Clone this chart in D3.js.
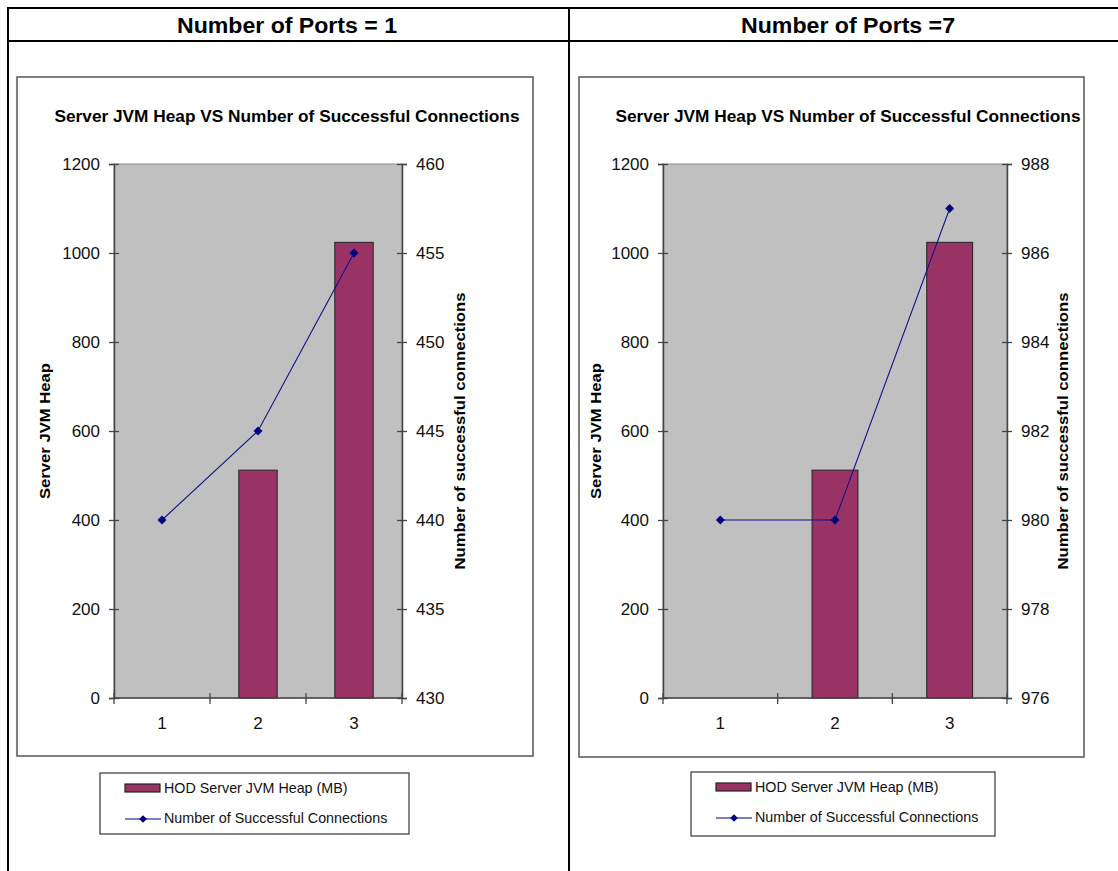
<!DOCTYPE html>
<html>
<head>
<meta charset="utf-8">
<script src="https://cdn.jsdelivr.net/npm/d3@7"></script>
<style>
  html, body { margin: 0; padding: 0; background: #fff; }
  svg { display: block; }
  text { font-family: Arial, "Liberation Sans", sans-serif; }
</style>
</head>
<body>
<svg id="chart" width="1118" height="871"></svg>
<script>
// ---------- data ----------
const categories = ["1", "2", "3"];
const heapPorts1 = [null, 512, 1024];
const connPorts1 = [440, 445, 455];
const heapPorts7 = [null, 512, 1024];
const connPorts7 = [980, 980, 987];
const heapTicks = [0, 200, 400, 600, 800, 1000, 1200];
const connTicks1 = [430, 435, 440, 445, 450, 455, 460];
const connTicks7 = [976, 978, 980, 982, 984, 986, 988];
const headers = ["Number of Ports = 1", "Number of Ports =7"];
const chartTitle = "Server JVM Heap VS Number of Successful Connections";
const leftAxisTitle = "Server JVM Heap";
const rightAxisTitle = "Number of successful connections";
const legendLabels = ["HOD Server JVM Heap (MB)", "Number of Successful Connections"];

const svg = d3.select("#chart");

// ---------- table ----------
const table = svg.append("g");
table.append("line").attr("x1", 8).attr("x2", 1118).attr("y1", 8).attr("y2", 8).attr("stroke", "#000").attr("stroke-width", 2);
table.append("line").attr("x1", 8).attr("x2", 1118).attr("y1", 41).attr("y2", 41).attr("stroke", "#000").attr("stroke-width", 2);
table.append("line").attr("x1", 8).attr("x2", 8).attr("y1", 7).attr("y2", 871).attr("stroke", "#000").attr("stroke-width", 2);
table.append("line").attr("x1", 569).attr("x2", 569).attr("y1", 7).attr("y2", 871).attr("stroke", "#000").attr("stroke-width", 2);

table.selectAll("text.hdr").data(headers).join("text")
  .attr("class", "hdr")
  .attr("x", (d, i) => i === 0 ? 287 : 848)
  .attr("y", 33)
  .attr("text-anchor", "middle")
  .attr("font-size", 22)
  .attr("font-weight", "bold")
  .attr("textLength", (d, i) => i === 0 ? 220 : 214)
  .attr("lengthAdjust", "spacingAndGlyphs")
  .text(d => d);

// ---------- chart builder ----------
function drawChart(cfg) {
  const g = svg.append("g");
  g.append("rect")
    .attr("x", cfg.frame[0]).attr("y", cfg.frame[1])
    .attr("width", cfg.frame[2] - cfg.frame[0]).attr("height", cfg.frame[3] - cfg.frame[1])
    .attr("fill", "#fff").attr("stroke", "#555").attr("stroke-width", 1.5);

  const x = d3.scaleBand().domain(categories).range([cfg.px0, cfg.px1]).padding(0);
  const yL = d3.scaleLinear().domain([0, 1200]).range([cfg.py1, cfg.py0]);
  const yR = d3.scaleLinear().domain([cfg.rTicks[0], cfg.rTicks[cfg.rTicks.length - 1]]).range([cfg.py1, cfg.py0]);

  g.append("rect")
    .attr("x", cfg.px0).attr("y", cfg.py0)
    .attr("width", cfg.px1 - cfg.px0).attr("height", cfg.py1 - cfg.py0)
    .attr("fill", "#c0c0c0").attr("stroke", "#8c8c8c").attr("stroke-width", 1);

  const bw = x.bandwidth() * 0.4;
  const barData = categories.map((c, i) => ({ c, v: cfg.heap[i] })).filter(d => d.v != null);
  g.selectAll("rect.bar").data(barData).join("rect")
    .attr("class", "bar")
    .attr("x", d => x(d.c) + x.bandwidth() / 2 - bw / 2)
    .attr("y", d => yL(d.v))
    .attr("width", bw)
    .attr("height", d => yL(0) - yL(d.v))
    .attr("fill", "#993366").attr("stroke", "#222").attr("stroke-width", 1);

  const axL = g.append("g").attr("transform", `translate(${cfg.px0},0)`)
    .call(d3.axisLeft(yL).tickValues(heapTicks).tickSize(5).tickPadding(9).tickFormat(d3.format("d")));
  axL.selectAll(".tick line").attr("x2", -5).attr("x1", 5);
  const axR = g.append("g").attr("transform", `translate(${cfg.px1},0)`)
    .call(d3.axisRight(yR).tickValues(cfg.rTicks).tickSize(5).tickPadding(9).tickFormat(d3.format("d")));
  axR.selectAll(".tick line").attr("x1", -5).attr("x2", 5);
  const axB = g.append("g").attr("transform", `translate(0,${cfg.py1})`)
    .call(d3.axisBottom(x).tickSize(0).tickPadding(19));
  [axL, axR, axB].forEach(a => {
    a.select(".domain").attr("stroke", "#444").attr("stroke-width", 1.5);
    a.selectAll(".tick line").attr("stroke", "#444").attr("stroke-width", 1.3);
    a.selectAll("text").attr("font-size", 17).attr("fill", "#111")
      .style("font-family", "Arial, 'Liberation Sans', sans-serif");
  });
  axB.select(".domain").attr("d", `M${cfg.px0},0H${cfg.px1}`);
  const bounds = categories.map(c => x(c)).concat([x(categories[categories.length - 1]) + x.bandwidth()]);
  axB.selectAll("line.bt").data(bounds).join("line")
    .attr("class", "bt")
    .attr("x1", d => d).attr("x2", d => d).attr("y1", -5).attr("y2", 6)
    .attr("stroke", "#444").attr("stroke-width", 1.3);

  const pts = categories.map((c, i) => ({ c, v: cfg.conn[i] }));
  const line = d3.line().x(d => x(d.c) + x.bandwidth() / 2).y(d => yR(d.v));
  g.append("path").datum(pts).attr("d", line)
    .attr("fill", "none").attr("stroke", "#10108a").attr("stroke-width", 1.1);
  g.selectAll("path.mk").data(pts).join("path")
    .attr("class", "mk")
    .attr("transform", d => `translate(${x(d.c) + x.bandwidth() / 2},${yR(d.v)})`)
    .attr("d", d3.symbol(d3.symbolSquare, 40))
    .attr("transform", d => `translate(${x(d.c) + x.bandwidth() / 2},${yR(d.v)}) rotate(45)`)
    .attr("fill", "#000080");

  g.append("text").attr("x", cfg.titleX).attr("y", 122)
    .attr("text-anchor", "middle").attr("font-size", 16).attr("font-weight", "bold")
    .attr("textLength", 465).attr("lengthAdjust", "spacingAndGlyphs")
    .text(chartTitle);

  g.append("text")
    .attr("transform", `translate(${cfg.lTitleX},431) rotate(-90)`)
    .attr("text-anchor", "middle").attr("font-size", 14).attr("font-weight", "bold")
    .attr("textLength", 136).attr("lengthAdjust", "spacingAndGlyphs")
    .text(leftAxisTitle);
  g.append("text")
    .attr("transform", `translate(${cfg.rTitleX},431) rotate(-90)`)
    .attr("text-anchor", "middle").attr("font-size", 14).attr("font-weight", "bold")
    .attr("textLength", 277).attr("lengthAdjust", "spacingAndGlyphs")
    .text(rightAxisTitle);

  const L = cfg.legend;
  const lg = g.append("g");
  lg.append("rect").attr("x", L[0]).attr("y", L[1]).attr("width", L[2] - L[0]).attr("height", L[3] - L[1])
    .attr("fill", "#fff").attr("stroke", "#333").attr("stroke-width", 1.2);
  const sx = L[0] + 25;
  lg.append("rect").attr("x", sx).attr("y", L[1] + 11).attr("width", 35).attr("height", 8)
    .attr("fill", "#993366").attr("stroke", "#222").attr("stroke-width", 1.2);
  lg.append("line").attr("x1", sx).attr("x2", sx + 36).attr("y1", L[1] + 46).attr("y2", L[1] + 46)
    .attr("stroke", "#000080").attr("stroke-width", 1.2);
  lg.append("path").attr("transform", `translate(${sx + 18},${L[1] + 46}) rotate(45)`)
    .attr("d", d3.symbol(d3.symbolSquare, 30)).attr("fill", "#000080");
  lg.selectAll("text").data(legendLabels).join("text")
    .attr("x", sx + 39).attr("y", (d, i) => L[1] + 20 + i * 30)
    .attr("font-size", 14.3).attr("fill", "#111")
    .text(d => d);
}

drawChart({
  frame: [17, 77, 533, 756],
  px0: 114, px1: 402, py0: 164, py1: 698,
  heap: heapPorts1, conn: connPorts1, rTicks: connTicks1,
  titleX: 287, lTitleX: 50, rTitleX: 465,
  legend: [100, 773, 409, 834]
});
drawChart({
  frame: [579, 77, 1084, 757],
  px0: 663, px1: 1007, py0: 164, py1: 698,
  heap: heapPorts7, conn: connPorts7, rTicks: connTicks7,
  titleX: 848, lTitleX: 601, rTitleX: 1068,
  legend: [691, 772, 995, 836]
});
</script>
</body>
</html>
